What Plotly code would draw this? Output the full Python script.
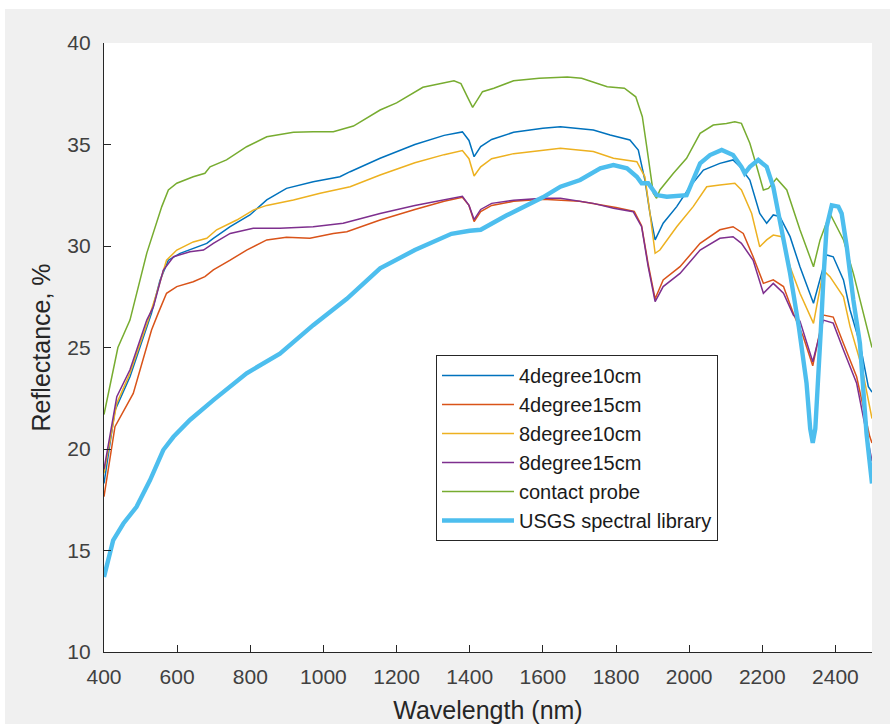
import plotly.graph_objects as go

# ---------------- data ----------------
wl_contact = [400, 438, 471, 489, 517, 558, 576, 599, 644, 676, 690, 735, 790, 845, 918, 972, 1027, 1082,
              1155, 1200, 1272, 1357, 1376, 1395, 1408, 1435, 1466, 1520, 1590, 1667, 1706, 1776, 1823, 1854,
              1872, 1884, 1902, 1911, 1920, 1957, 1993, 2030, 2066, 2102, 2125, 2143, 2166, 2185, 2203, 2217,
              2239, 2267, 2303, 2340, 2358, 2385, 2422, 2449, 2500]
r_contact = [21.7, 25.0, 26.35, 27.7, 29.65, 31.94, 32.76, 33.09, 33.41, 33.58, 33.9, 34.24, 34.89, 35.38, 35.6,
             35.63, 35.63, 35.91, 36.7, 37.05, 37.82, 38.14, 38.0, 37.3, 36.83, 37.6, 37.77, 38.14, 38.26, 38.33,
             38.26, 37.85, 37.77, 37.35, 36.37, 34.9, 32.6, 32.35, 32.76, 33.58, 34.32, 35.55, 35.96, 36.04,
             36.12, 36.04, 35.06, 33.9, 32.76, 32.84, 33.33, 32.76, 30.8, 28.98, 30.3, 31.6, 30.3, 28.65, 25.0]

wl_4d10 = [400, 430, 471, 517, 530, 553, 576, 608, 644, 681, 699, 745, 799, 845, 899, 972, 1045, 1073, 1155,
           1250, 1330, 1380, 1398, 1412, 1430, 1460, 1520, 1600, 1648, 1738, 1784, 1838, 1861, 1879, 1893, 1907,
           1929, 1966, 2002, 2039, 2084, 2120, 2139, 2166, 2193, 2212, 2230, 2248, 2276, 2303, 2340, 2358, 2376,
           2394, 2422, 2440, 2467, 2490, 2500]
r_4d10 = [18.3, 21.9, 23.56, 26.0, 26.7, 28.3, 29.3, 29.64, 29.89, 30.13, 30.38, 30.95, 31.53, 32.27, 32.84,
          33.17, 33.41, 33.66, 34.32, 35.0, 35.45, 35.62, 35.2, 34.4, 34.9, 35.25, 35.6, 35.8, 35.88, 35.71, 35.47,
          35.22, 34.73, 33.25, 31.6, 30.3, 31.12, 31.94, 32.92, 33.74, 34.07, 34.24, 33.9, 33.25, 31.6, 31.12,
          31.53, 31.45, 30.46, 28.98, 27.18, 28.33, 29.56, 29.47, 28.33, 26.85, 25.2, 23.07, 22.8]

wl_4d15 = [400, 430, 480, 530, 548, 571, 599, 644, 676, 699, 745, 790, 845, 899, 963, 1027, 1064, 1155, 1250,
           1330, 1380, 1398, 1412, 1430, 1460, 1520, 1600, 1700, 1800, 1850, 1870, 1888, 1907, 1929, 1975, 2030,
           2084, 2120, 2148, 2175, 2203, 2230, 2258, 2285, 2312, 2338, 2367, 2394, 2422, 2458, 2494, 2500]
r_4d15 = [17.65, 21.1, 22.74, 25.86, 26.68, 27.67, 28.0, 28.24, 28.49, 28.82, 29.3, 29.8, 30.3, 30.43, 30.38,
          30.62, 30.7, 31.28, 31.8, 32.2, 32.4, 32.0, 31.2, 31.7, 32.0, 32.2, 32.3, 32.2, 31.9, 31.7, 31.0, 29.1,
          27.4, 28.33, 28.98, 30.13, 30.8, 30.95, 30.62, 29.47, 28.16, 28.33, 28.0, 26.68, 25.53, 24.1, 26.6, 26.5,
          25.2, 23.56, 20.6, 20.3]

wl_8d10 = [400, 435, 471, 521, 544, 571, 599, 644, 681, 708, 763, 808, 845, 918, 991, 1073, 1155, 1250, 1330,
           1380, 1398, 1412, 1430, 1460, 1520, 1600, 1648, 1738, 1793, 1857, 1879, 1893, 1907, 1920, 1966, 2011,
           2048, 2084, 2125, 2143, 2171, 2193, 2212, 2230, 2253, 2276, 2303, 2340, 2367, 2385, 2422, 2440, 2472,
           2500]
r_8d10 = [18.8, 22.25, 23.73, 26.35, 27.67, 29.3, 29.8, 30.2, 30.38, 30.8, 31.28, 31.77, 32.0, 32.27, 32.6,
          32.92, 33.5, 34.1, 34.5, 34.7, 34.3, 33.45, 33.9, 34.3, 34.55, 34.7, 34.81, 34.65, 34.32, 34.15, 33.41,
          31.6, 29.64, 29.8, 30.95, 31.94, 32.92, 33.0, 33.09, 32.76, 31.6, 29.96, 30.3, 30.54, 30.46, 28.98, 27.67,
          26.19, 28.8, 28.49, 27.5, 26.03, 24.05, 21.5]

wl_8d15 = [400, 435, 471, 517, 535, 562, 590, 635, 672, 699, 745, 808, 881, 972, 1054, 1155, 1250, 1330, 1380,
           1398, 1412, 1430, 1460, 1520, 1600, 1648, 1738, 1793, 1847, 1870, 1888, 1907, 1929, 1975, 2030, 2084,
           2120, 2143, 2175, 2203, 2230, 2258, 2285, 2303, 2338, 2367, 2394, 2422, 2458, 2500]
r_8d15 = [19.0, 22.58, 23.9, 26.35, 27.0, 28.8, 29.47, 29.72, 29.8, 30.13, 30.62, 30.87, 30.87, 30.95, 31.12,
          31.6, 32.0, 32.3, 32.45, 32.0, 31.3, 31.8, 32.1, 32.25, 32.35, 32.35, 32.1, 31.86, 31.69, 30.95, 28.98,
          27.26, 28.0, 28.65, 29.8, 30.38, 30.46, 30.13, 29.3, 27.67, 28.16, 27.67, 26.6, 26.3, 24.3, 26.35, 26.2,
          24.88, 23.24, 19.4]

wl_usgs = [400, 425, 453, 489, 526, 562, 590, 635, 699, 790, 881, 972, 1064, 1155, 1250, 1350, 1400, 1430, 1500,
           1600, 1648, 1702, 1757, 1793, 1830, 1857, 1870, 1888, 1911, 1939, 1993, 2011, 2030, 2057, 2089, 2120,
           2143, 2152, 2166, 2189, 2212, 2230, 2248, 2276, 2300, 2321, 2331, 2338, 2345, 2353, 2362, 2367, 2376,
           2390, 2408, 2417, 2431, 2449, 2467, 2485, 2500]
r_usgs = [13.7, 15.5, 16.33, 17.15, 18.47, 19.95, 20.6, 21.43, 22.41, 23.73, 24.7, 26.1, 27.4, 28.9, 29.8, 30.6,
          30.75, 30.8, 31.5, 32.4, 32.92, 33.25, 33.83, 33.99, 33.83, 33.41, 33.09, 33.09, 32.51, 32.43, 32.5,
          33.25, 34.07, 34.48, 34.73, 34.48, 33.9, 33.58, 33.9, 34.24, 33.9, 32.92, 31.28, 28.65, 26.0, 23.24,
          21.0, 20.3, 21.0, 23.24, 26.5, 28.33, 30.95, 32.0, 31.94, 31.6, 29.96, 27.34, 25.2, 20.76, 18.3]

series_names = ["4degree10cm", "4degree15cm", "8degree10cm", "8degree15cm", "contact probe",
                "USGS spectral library"]
x_ticks = [400, 600, 800, 1000, 1200, 1400, 1600, 1800, 2000, 2200, 2400]
y_ticks = [10, 15, 20, 25, 30, 35, 40]

# ---------------- figure ----------------
colors = ["#0072BD", "#D95319", "#EDB120", "#7E2F8E", "#77AC30", "#4DBEEE"]
xs = [wl_4d10, wl_4d15, wl_8d10, wl_8d15, wl_contact, wl_usgs]
ys = [r_4d10, r_4d15, r_8d10, r_8d15, r_contact, r_usgs]
widths = [1.5, 1.5, 1.5, 1.5, 1.5, 4.4]

fig = go.Figure()
for name, x, y, c, w in zip(series_names, xs, ys, colors, widths):
    fig.add_trace(go.Scatter(x=x, y=y, mode="lines", name=name,
                             line=dict(color=c, width=w)))

W, H = 890, 724
L, R, T, B = 104, 18, 43, 72
pw, ph = W - L - R, H - T - B

def px_x(p):
    return (p - L) / pw

def px_y(p):
    return 1 - (p - T) / ph

font_fam = "Liberation Sans, Arial, sans-serif"
axis_col = "#262626"

fig.update_layout(
    width=W, height=H,
    margin=dict(l=L, r=R, t=T, b=B, pad=0),
    paper_bgcolor="#f0f0f0",
    plot_bgcolor="white",
    font=dict(family=font_fam, color=axis_col),
    showlegend=True,
    hovermode=False,
    legend=dict(
        x=px_x(436), y=px_y(355), xanchor="left", yanchor="top",
        bgcolor="white", bordercolor=axis_col, borderwidth=1,
        font=dict(size=20, family=font_fam, color="#1a1a1a"),
        itemwidth=72, tracegroupgap=0,
    ),
    shapes=[
        dict(type="rect", xref="paper", yref="paper", x0=px_x(-10), x1=px_x(W + 10),
             y0=px_y(9), y1=px_y(-10), fillcolor="white", line=dict(width=0), layer="below"),
        dict(type="rect", xref="paper", yref="paper", x0=px_x(-10), x1=px_x(5),
             y0=px_y(H + 10), y1=px_y(-10), fillcolor="white", line=dict(width=0), layer="below"),
    ],
)

fig.update_xaxes(
    range=[400, 2500], tickvals=x_ticks, ticktext=[str(v) for v in x_ticks],
    showgrid=False, zeroline=False, showline=True, linecolor=axis_col, linewidth=1.3,
    ticks="inside", ticklen=7, tickwidth=1.3, tickcolor=axis_col,
    tickfont=dict(size=21, family=font_fam, color="#404040"),
    ticklabelstandoff=6,
    title=dict(text="Wavelength (nm)", font=dict(size=25, family=font_fam, color="#262626"), standoff=16),
    automargin=False,
)
fig.update_yaxes(
    range=[10, 40], tickvals=y_ticks, ticktext=[str(v) for v in y_ticks],
    showgrid=False, zeroline=False, showline=True, linecolor=axis_col, linewidth=1.3,
    ticks="inside", ticklen=7, tickwidth=1.3, tickcolor=axis_col,
    tickfont=dict(size=21, family=font_fam, color="#404040"),
    ticklabelstandoff=8,
    title=dict(text="Reflectance, %", font=dict(size=25, family=font_fam, color="#262626"), standoff=9),
    automargin=False,
)

fig.write_html("out.html", config={"displayModeBar": False},
               post_script="document.body.style.margin='0';")
